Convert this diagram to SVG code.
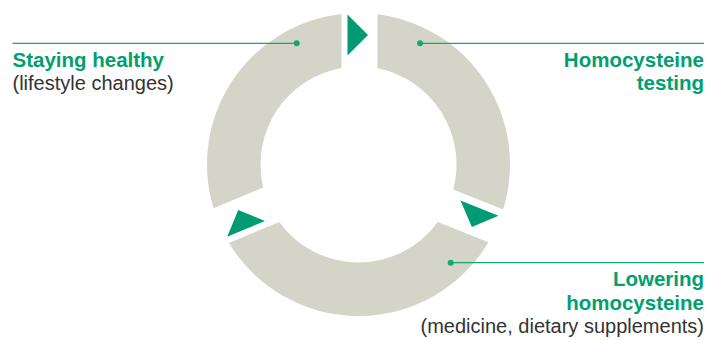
<svg xmlns="http://www.w3.org/2000/svg" width="720" height="340" viewBox="0 0 720 340">
  <style>
    .seg { fill: #d4d4c8; }
    .arrow { fill: #009b74; }
    .lead { stroke: #14a874; stroke-width: 1.3; fill: none; }
    .dot { fill: #14a874; }
    .title { font-family: "Liberation Sans", Arial, sans-serif; font-weight: bold; font-size: 20.5px; fill: #00a06e; }
    .sub { font-family: "Liberation Sans", Arial, sans-serif; font-size: 20px; fill: #333333; }
  </style>
  <defs>
    <polygon id="tri" points="0,-20.5 20.5,0 0,20.5"/>
  </defs>
  <rect width="720" height="340" fill="#ffffff"/>

  <g id="node-testing">
    <path class="seg" d="M377.5,14.2 A151.5,151.5 0 0 1 503.18,209.45 L453.26,189.48 A98,98 0 0 0 377.5,68.36 Z"/>
    <text class="title" x="704" y="66.5" text-anchor="end">Homocysteine</text>
    <text class="title" x="704" y="90" text-anchor="end">testing</text>
  </g>

  <g id="node-lowering">
    <path class="seg" d="M488.48,242.34 A151.5,151.5 0 0 1 228.97,243.07 L279.19,222.06 A98,98 0 0 0 437.81,222.07 Z"/>
    <text class="title" x="704" y="286" text-anchor="end">Lowering</text>
    <text class="title" x="704" y="309.5" text-anchor="end">homocysteine</text>
    <text class="sub" x="704" y="333" text-anchor="end">(medicine, dietary supplements)</text>
  </g>

  <g id="node-healthy">
    <path class="seg" d="M213.5,208.35 A151.5,151.5 0 0 1 341.5,13.96 L341.5,67.99 A98,98 0 0 0 263.25,187.54 Z"/>
    <text class="title" x="12.5" y="66.5">Staying healthy</text>
    <text class="sub" x="12.5" y="90">(lifestyle changes)</text>
  </g>

  <g id="connectors">
    <use href="#tri" class="arrow" transform="translate(358.5,164.5) rotate(0) translate(-11,-129.5)"/>
    <use href="#tri" class="arrow" transform="translate(358.5,164.5) rotate(111.8) translate(-4.5,-128.5)"/>
    <use href="#tri" class="arrow" transform="translate(358.5,164.5) rotate(247.3) translate(-16,-128.5)"/>
    <line class="lead" x1="12.5" y1="43.3" x2="296.7" y2="43.3"/>
    <circle class="dot" cx="296.7" cy="43.3" r="3"/>
    <line class="lead" x1="420" y1="43.3" x2="704" y2="43.3"/>
    <circle class="dot" cx="420" cy="43.3" r="3"/>
    <line class="lead" x1="450.7" y1="262.7" x2="704" y2="262.7"/>
    <circle class="dot" cx="450.7" cy="262.7" r="3"/>
  </g>
</svg>
